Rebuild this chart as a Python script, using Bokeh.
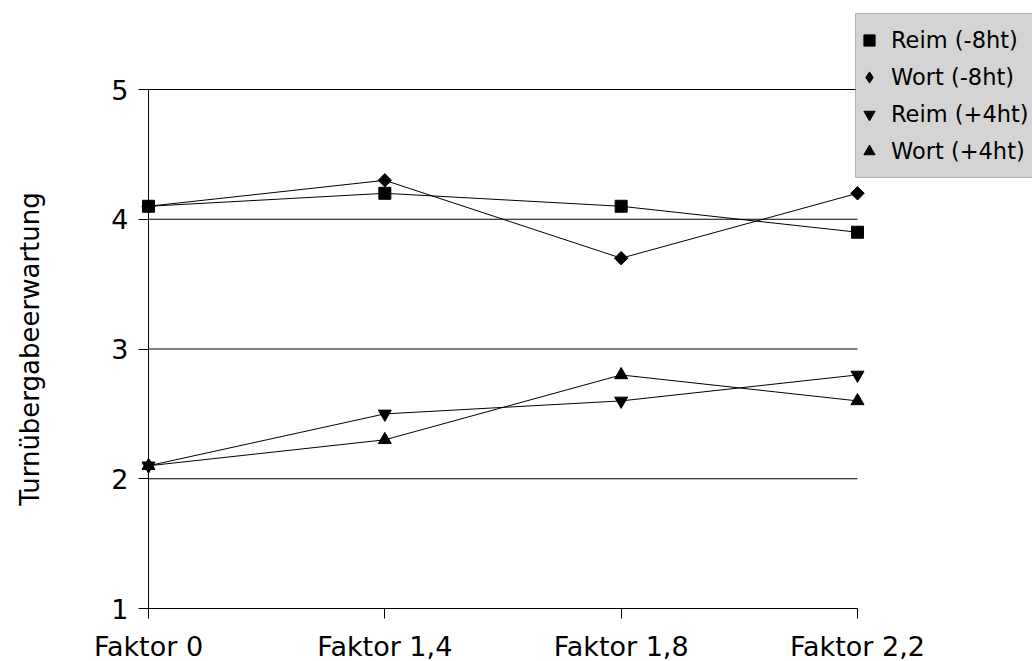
import math

from bokeh.embed import file_html
from bokeh.models import BoxAnnotation, FixedTicker, Legend, LegendItem, Range1d
from bokeh.plotting import figure
from bokeh.resources import INLINE

# Chart data
categories = ["Faktor 0", "Faktor 1,4", "Faktor 1,8", "Faktor 2,2"]
reim_minus8 = [4.1, 4.2, 4.1, 3.9]
wort_minus8 = [4.1, 4.3, 3.7, 4.2]
reim_plus4 = [2.1, 2.5, 2.6, 2.8]
wort_plus4 = [2.1, 2.3, 2.8, 2.6]
y_ticks = [1, 2, 3, 4, 5]
y_label = "Turnübergabeerwartung"

FONT = "DejaVu Sans"
W, H = 1032, 661

# plot area inside the canvas (pixels): left, right, top, bottom
AREA_L, AREA_R, AREA_T, AREA_B = 148, 857, 89, 608

x = list(range(len(categories)))
x_lo, x_hi = x[0], x[-1]
y_lo, y_hi = y_ticks[0], y_ticks[-1]

# the frame spans the whole canvas so markers and the legend are not clipped;
# the ranges are widened so that the axes sit at the plot-area edges
kx = (x_hi - x_lo) / (AREA_R - AREA_L)
ky = (y_hi - y_lo) / (AREA_B - AREA_T)
x_range = Range1d(x_lo - AREA_L * kx, x_hi + (W - AREA_R) * kx)
y_range = Range1d(y_lo - (H - AREA_B) * ky, y_hi + AREA_T * ky)

p = figure(
    width=W,
    height=H,
    output_backend="svg",
    toolbar_location=None,
    x_range=x_range,
    y_range=y_range,
    min_border=0,
)
p.background_fill_color = "white"
p.border_fill_color = "white"
p.outline_line_color = None

# axes pinned to the plot-area corner
p.xaxis.fixed_location = y_lo
p.yaxis.fixed_location = x_lo
p.xaxis.bounds = (x_lo, x_hi)
p.yaxis.bounds = (y_lo, y_hi)
p.xaxis.ticker = FixedTicker(ticks=x)
p.xaxis.major_label_overrides = {i: c for i, c in zip(x, categories)}
p.yaxis.ticker = FixedTicker(ticks=y_ticks)
for ax in (p.xaxis, p.yaxis):
    ax.axis_line_color = "black"
    ax.axis_line_width = 1
    ax.major_tick_line_color = "black"
    ax.major_tick_out = 10
    ax.major_tick_in = 0
    ax.minor_tick_line_color = None
    ax.major_label_text_font = FONT
    ax.major_label_text_font_size = "27px"
    ax.major_label_text_color = "black"
p.xaxis.major_label_standoff = 12
p.yaxis.major_label_standoff = 10

p.yaxis.axis_label = y_label
p.yaxis.axis_label_text_font = FONT
p.yaxis.axis_label_text_font_size = "26px"
p.yaxis.axis_label_text_font_style = "normal"
p.yaxis.axis_label_text_color = "black"
p.yaxis.axis_label_standoff = 63

# horizontal grid lines across the plot area
p.xgrid.visible = False
p.ygrid.visible = False
grid_y = y_ticks[1:]
p.segment(x0=[x_lo] * len(grid_y), x1=[x_hi] * len(grid_y), y0=grid_y, y1=grid_y,
          line_color="black", line_width=1)

# series: (label, values, marker, size, angle, legend marker)
series = [
    ("Reim (-8ht)", reim_minus8, "square", 12, 0.0, None),
    ("Wort (-8ht)", wort_minus8, "square", 9.5, math.pi / 4, "diamond"),
    ("Reim (+4ht)", reim_plus4, "inverted_triangle", 13, 0.0, None),
    ("Wort (+4ht)", wort_plus4, "triangle", 13, 0.0, None),
]

items = []
for label, vals, marker, size, angle, legend_marker in series:
    p.line(x, vals, line_color="black", line_width=1)
    key = None
    if legend_marker is not None:
        # small diamond kept beneath the rotated square; it supplies the legend symbol
        key = p.scatter(x, vals, marker=legend_marker, size=8,
                        fill_color="black", line_color="black")
    r = p.scatter(x, vals, marker=marker, size=size, angle=angle,
                  fill_color="black", line_color="black")
    items.append(LegendItem(label=label, renderers=[key if key is not None else r]))

# legend frame
box = BoxAnnotation(
    left=855, right=1045, top=13, bottom=177,
    left_units="canvas", right_units="canvas",
    top_units="canvas", bottom_units="canvas",
    fill_color="#d4d4d4", fill_alpha=1.0,
    line_color="#333333", line_width=1,
)
p.add_layout(box)

legend = Legend(
    items=items,
    location=(855, H - 165),
    padding=0,
    margin=0,
    spacing=9,
    glyph_width=28,
    glyph_height=28,
    label_height=28,
    label_standoff=8,
    label_text_font=FONT,
    label_text_font_size="22.5px",
    label_text_color="black",
    background_fill_alpha=0,
    border_line_alpha=0,
)
p.add_layout(legend, "center")

open("out.html", "w").write(file_html(p, INLINE))
